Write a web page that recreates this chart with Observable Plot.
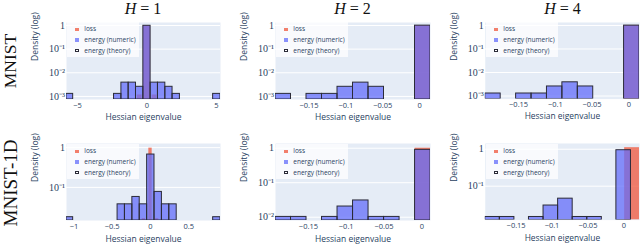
<!DOCTYPE html>
<html><head><meta charset="utf-8">
<script src="https://cdn.jsdelivr.net/npm/d3@7"></script>
<script src="https://cdn.jsdelivr.net/npm/@observablehq/plot@0.6"></script>
<style>
html,body{margin:0;padding:0;background:#fff;}
#root{position:relative;width:640px;height:245px;overflow:hidden;font-family:"Open Sans",sans-serif;}
.panel{position:absolute;}
.panel svg{overflow:visible;}
.legend{position:absolute;background:rgba(255,255,255,0.75);width:72px;height:35px;}
.legend .lab{position:absolute;font-size:6.5px;line-height:8px;height:8px;color:#2a3f5f;white-space:nowrap;}
.legend .sw{position:absolute;width:3.6px;height:3.6px;box-sizing:border-box;}
.title{position:absolute;font-family:"Liberation Serif",serif;font-size:16px;line-height:16px;color:#111;transform:translate(-50%,-50%);white-space:nowrap;}
.rowlab{position:absolute;font-family:"Liberation Serif",serif;color:#111;white-space:nowrap;transform:translate(-50%,-50%) rotate(-90deg);}
</style></head><body><div id="root"></div>
<script>
// ---------- data ----------
const hValues = ["1", "2", "4"];
const datasets = ["MNIST", "MNIST-1D"];
const legendLabels = ["loss", "energy (numeric)", "energy (theory)"];

// MNIST, H = 1
const tlLo = [-5.79, -2.37, -1.84, -1.32, -0.79, -0.26, 0.26, 0.79, 1.32, 1.84, 4.76];
const tlHi = [-5.31, -1.84, -1.32, -0.79, -0.26, 0.26, 0.79, 1.32, 1.84, 2.37, 5.29];
const tlEnergy = [0.00128, 0.00128, 0.00383, 0.00383, 0.00255, 0.974, 0.00383, 0.00383, 0.00255, 0.00128, 0.00128];
const tlTheory = [0.00128, 0.00128, 0.00383, 0.00383, 0.00255, 0.974, 0.00383, 0.00383, 0.00255, 0.00128, 0.00128];
const tlLossLo = [-0.70, -0.26, 0.37];
const tlLossHi = [-0.35, 0.26, 0.72];
const tlLoss = [0.00115, 0.97, 0.00115];
const tlXTicks = [-5, 0, 5];
const tlXDomain = [-5.79, 5.29];

// MNIST, H = 2
const tmLo = [-0.1954, -0.1534, -0.1324, -0.1114, -0.0904, -0.0694, -0.0064];
const tmHi = [-0.1744, -0.1324, -0.1114, -0.0904, -0.0694, -0.0484, 0.0146];
const tmEnergy = [0.00128, 0.00128, 0.00128, 0.00255, 0.00383, 0.00255, 0.987];
const tmTheory = [0.00128, 0.00128, 0.00128, 0.00255, 0.00383, 0.00255, 0.987];
const tmLossLo = [-0.0064];
const tmLossHi = [0.0146];
const tmLoss = [1.0];
const tmXDomain = [-0.1954, 0.0146];

// MNIST, H = 4
const trLo = [-0.1954, -0.1534, -0.1324, -0.1114, -0.0904, -0.0694, -0.0064];
const trHi = [-0.1744, -0.1324, -0.1114, -0.0904, -0.0694, -0.0484, 0.0146];
const trEnergy = [0.00128, 0.00128, 0.00128, 0.00255, 0.00383, 0.00255, 0.987];
const trTheory = [0.00128, 0.00128, 0.00128, 0.00255, 0.00383, 0.00255, 0.987];
const trLossLo = [-0.0064];
const trLossHi = [0.0146];
const trLoss = [1.0];
const trXDomain = [-0.1954, 0.0146];

const smallXTicks = [-0.15, -0.1, -0.05, 0];
const topYTicks = [1, 0.1, 0.01, 0.001];
const topYDomain = [0.00074, 1.34];

// MNIST-1D, H = 1
const blLo = [-1.097, -0.430, -0.334, -0.237, -0.141, -0.044, 0.052, 0.149, 0.245, 0.818];
const blHi = [-1.010, -0.334, -0.237, -0.141, -0.044, 0.052, 0.149, 0.245, 0.342, 0.914];
const blEnergy = [0.0178, 0.0375, 0.0375, 0.0575, 0.0375, 0.67, 0.077, 0.0375, 0.0375, 0.0178];
const blTheory = [0.0178, 0.0375, 0.0375, 0.0575, 0.0375, 0.67, 0.077, 0.0375, 0.0375, 0.0178];
const blLossLo = [-0.108, -0.022, 0.065];
const blLossHi = [-0.065, 0.022, 0.108];
const blLoss = [0.0165, 0.97, 0.0165];
const blXTicks = [-1, -0.5, 0, 0.5];
const blXDomain = [-1.097, 0.914];
const blYTicks = [1, 0.1];
const blYDomain = [0.0147, 1.27];

// MNIST-1D, H = 2
const bmLo = [-0.1935, -0.1730, -0.1320, -0.1115, -0.0910, -0.0705, -0.0500, -0.0090];
const bmHi = [-0.1730, -0.1525, -0.1115, -0.0910, -0.0705, -0.0500, -0.0295, 0.0115];
const bmEnergy = [0.0102, 0.0102, 0.0102, 0.0204, 0.0306, 0.0102, 0.0102, 0.898];
const bmTheory = [0.0102, 0.0102, 0.0102, 0.0204, 0.0306, 0.0102, 0.0102, 0.898];
const bmLossLo = [-0.0090];
const bmLossHi = [0.0115];
const bmLoss = [1.0];
const bmXDomain = [-0.1935, 0.0114];
const bmYTicks = [1, 0.1, 0.01];
const bmYDomain = [0.00803, 1.37];

// MNIST-1D, H = 4
const brLo = [-0.1930, -0.1727, -0.1321, -0.1118, -0.0915, -0.0712, -0.0509, -0.0103];
const brHi = [-0.1727, -0.1524, -0.1118, -0.0915, -0.0712, -0.0509, -0.0306, 0.0100];
const brEnergy = [0.0147, 0.0147, 0.0147, 0.030, 0.046, 0.0147, 0.0147, 0.94];
const brTheory = [0.0147, 0.0147, 0.0147, 0.030, 0.046, 0.0147, 0.0147, 0.94];
const brLossLo = [0.0012];
const brLossHi = [0.0219];
const brLoss = [1.1];
const brXDomain = [-0.193, 0.0219];
const brYTicks = [1, 0.1];
const brYDomain = [0.0121, 1.43];

// ---------- panels ----------
const panels = [
  {r:0,c:0, lo:tlLo, hi:tlHi, en:tlEnergy, th:tlTheory, llo:tlLossLo, lhi:tlLossHi, ls:tlLoss, xd:tlXDomain, xt:tlXTicks, yd:topYDomain, yt:topYTicks},
  {r:0,c:1, lo:tmLo, hi:tmHi, en:tmEnergy, th:tmTheory, llo:tmLossLo, lhi:tmLossHi, ls:tmLoss, xd:tmXDomain, xt:smallXTicks, yd:topYDomain, yt:topYTicks},
  {r:0,c:2, lo:trLo, hi:trHi, en:trEnergy, th:trTheory, llo:trLossLo, lhi:trLossHi, ls:trLoss, xd:trXDomain, xt:smallXTicks, yd:topYDomain, yt:topYTicks},
  {r:1,c:0, lo:blLo, hi:blHi, en:blEnergy, th:blTheory, llo:blLossLo, lhi:blLossHi, ls:blLoss, xd:blXDomain, xt:blXTicks, yd:blYDomain, yt:blYTicks},
  {r:1,c:1, lo:bmLo, hi:bmHi, en:bmEnergy, th:bmTheory, llo:bmLossLo, lhi:bmLossHi, ls:bmLoss, xd:bmXDomain, xt:smallXTicks, yd:bmYDomain, yt:bmYTicks},
  {r:1,c:2, lo:brLo, hi:brHi, en:brEnergy, th:brTheory, llo:brLossLo, lhi:brLossHi, ls:brLoss, xd:brXDomain, xt:smallXTicks, yd:brYDomain, yt:brYTicks}
];

const colLeft = [66, 275, 485], colWidth = [154, 155, 155];
const rowTop = [22, 143], plotH = 77;
const M = {left: 50, right: 1, top: 4, bottom: 30};
const ink = "#2a3f5f";

const supMap = {"-":"\u207B","0":"\u2070","1":"\u00B9","2":"\u00B2","3":"\u00B3","4":"\u2074","5":"\u2075","6":"\u2076","7":"\u2077","8":"\u2078","9":"\u2079"};
const yFmt = d => d === 1 ? "1" : "10" + String(Math.round(Math.log10(d))).split("").map(ch => supMap[ch]).join("");
const xFmt = d3.format("");

const root = document.getElementById("root");

function rows(lo, hi, v, base) {
  return lo.map((l, i) => ({x1: l, x2: hi[i], y1: base, y2: v[i]}));
}

panels.forEach(p => {
  const w = colWidth[p.c];
  const base = p.yd[0];
  const chart = Plot.plot({
    width: M.left + w + M.right,
    height: M.top + plotH + M.bottom,
    marginLeft: M.left, marginRight: M.right, marginTop: M.top, marginBottom: M.bottom,
    style: {background: "transparent", fontFamily: '"Open Sans", sans-serif', color: ink, overflow: "visible"},
    x: {domain: p.xd},
    y: {type: "log", domain: p.yd},
    marks: [
      Plot.frame({fill: "#E5ECF6", stroke: "none"}),
      Plot.gridY(p.yt, {stroke: "#ffffff", strokeOpacity: 1, strokeWidth: 1}),
      Plot.rect(rows(p.llo, p.lhi, p.ls, base), {x1: "x1", x2: "x2", y1: "y1", y2: "y2", fill: "#EF553B", fillOpacity: 0.75, clip: true}),
      Plot.rect(rows(p.lo, p.hi, p.en, base), {x1: "x1", x2: "x2", y1: "y1", y2: "y2", fill: "#636EFA", fillOpacity: 0.75, clip: true}),
      Plot.rect(rows(p.lo, p.hi, p.th, base), {x1: "x1", x2: "x2", y1: "y1", y2: "y2", fill: "none", stroke: "#2b2b38", strokeWidth: 1, clip: true}),
      Plot.axisX(p.xt, {tickSize: 0, tickPadding: 3, tickFormat: xFmt, fontSize: 7.5, label: null}),
      Plot.axisY(p.yt, {tickSize: 0, tickPadding: 1.5, tickFormat: yFmt, fontSize: 10, fontFamily: '"Liberation Serif", serif', label: null}),
      Plot.text(["Hessian eigenvalue"], {text: d => d, frameAnchor: "bottom", dy: p.r ? 21 : 20.5, fontSize: 8.5, fill: ink}),
      Plot.text(["Density (log)"], {text: d => d, frameAnchor: "left", dx: -31, rotate: -90, fontSize: 8.5, fill: ink})
    ]
  });
  const holder = document.createElement("div");
  holder.className = "panel";
  holder.style.left = (colLeft[p.c] - M.left) + "px";
  holder.style.top = (rowTop[p.r] - M.top) + "px";
  holder.appendChild(chart);
  root.appendChild(holder);

  // legend
  const lg = document.createElement("div");
  lg.className = "legend";
  lg.style.left = (colLeft[p.c] + 0.7) + "px";
  lg.style.top = (rowTop[p.r] + (p.r ? 1 : 0)) + "px";
  const swStyle = [
    "background:rgba(239,85,59,0.75);",
    "background:rgba(99,110,250,0.75);",
    "background:#fff;border:1px solid #2b2b38;"
  ];
  legendLabels.forEach((t, i) => {
    const cy = 7.3 + i * 10.7;
    const sw = document.createElement("div");
    sw.className = "sw";
    sw.style.cssText = swStyle[i] + `left:8.6px;top:${cy - 1.8}px;`;
    lg.appendChild(sw);
    const lab = document.createElement("div");
    lab.className = "lab";
    lab.style.left = "17.6px";
    lab.style.top = (cy - 4) + "px";
    lab.textContent = t;
    lg.appendChild(lab);
  });
  root.appendChild(lg);
});

// column titles
hValues.forEach((h, c) => {
  const t = document.createElement("div");
  t.className = "title";
  t.style.left = (colLeft[c] + colWidth[c] / 2) + "px";
  t.style.top = "8.5px";
  t.innerHTML = "<i>H</i> = " + h;
  root.appendChild(t);
});

// row labels
datasets.forEach((name, r) => {
  const t = document.createElement("div");
  t.className = "rowlab";
  t.style.left = "10px";
  t.style.top = (r ? 183 : 61) + "px";
  t.style.fontSize = (r ? 19 : 17.5) + "px";
  t.style.lineHeight = "13px";
  t.textContent = name;
  root.appendChild(t);
});
</script></body></html>
